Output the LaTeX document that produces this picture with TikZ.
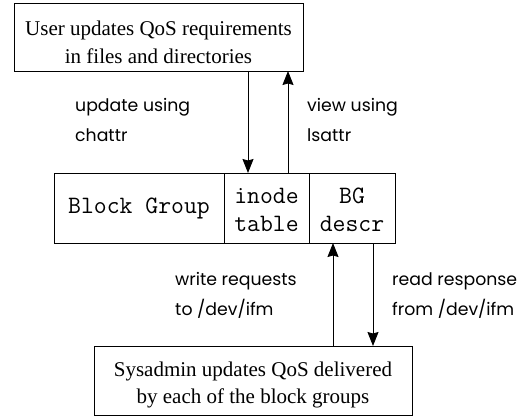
\documentclass[tikz,border=0pt]{standalone}
\usepackage{fontspec}
\setmainfont{Liberation Serif}
\newfontfamily\lblfont{Poppins}
\usetikzlibrary{arrows.meta}
\newcommand{\boxlines}[2]{\raisebox{#1}[\height][\depth]{\begin{tabular}{@{}c@{}}#2\end{tabular}}}
\begin{document}
\begin{tikzpicture}[x=1pt,y=-1pt,
  box/.style={draw,line width=0.8pt,inner sep=0pt,outer sep=0pt,align=center},
  cell/.style={draw,line width=0.8pt,inner sep=0pt,outer sep=0pt,align=center,minimum height=70pt,font=\ttfamily\fontsize{25}{28}\selectfont},
  arr/.style={line width=0.9pt,-{Stealth[length=14pt,width=11pt,inset=1.5pt]}},
  lbl/.style={anchor=base west,inner sep=0pt,font=\lblfont\fontsize{17.3}{30}\selectfont}]
\useasboundingbox (0,0) rectangle (527,417);
\node[box,minimum width=289pt,minimum height=68pt,font=\fontsize{21}{28}\selectfont] (top) at (158.5,37)
  {\boxlines{-6.5pt}{User updates QoS requirements\\in files and directories}};
\node[cell,minimum width=170pt] (bg) at (139,208) {Block Group};
\node[cell,minimum width=85pt] (inode) at (266.5,208) {\boxlines{-4pt}{inode\\table}};
\node[cell,minimum width=86pt] (descr) at (352,208) {\boxlines{-4pt}{BG\\descr}};
\node[box,minimum width=318pt,minimum height=69pt,font=\fontsize{21}{27}\selectfont] (bot) at (253,380.5)
  {\boxlines{-3.6pt}{Sysadmin updates QoS delivered\\by each of the block groups}};
\coordinate (xa) at (248,0);
\coordinate (xb) at (288,0);
\coordinate (xc) at (333,0);
\coordinate (xd) at (373,0);
\draw[arr] (top.south -| xa) -- (inode.north -| xa);
\draw[arr] (inode.north -| xb) -- (top.south -| xb);
\draw[arr] (bot.north -| xc) -- (descr.south -| xc);
\draw[arr] (descr.south -| xd) -- (bot.north -| xd);
\node[lbl] (l1) at (75,112) {\begin{tabular}[t]{@{}l@{}}update using\\chattr\end{tabular}};
\node[lbl] (l2) at (307,112) {\begin{tabular}[t]{@{}l@{}}view using\\lsattr\end{tabular}};
\node[lbl] (l3) at (175,285) {\begin{tabular}[t]{@{}l@{}}write requests\\to /dev/ifm\end{tabular}};
\node[lbl] (l4) at (392,285) {\begin{tabular}[t]{@{}l@{}}read response\\from /dev/ifm\end{tabular}};
\end{tikzpicture}
\end{document}
